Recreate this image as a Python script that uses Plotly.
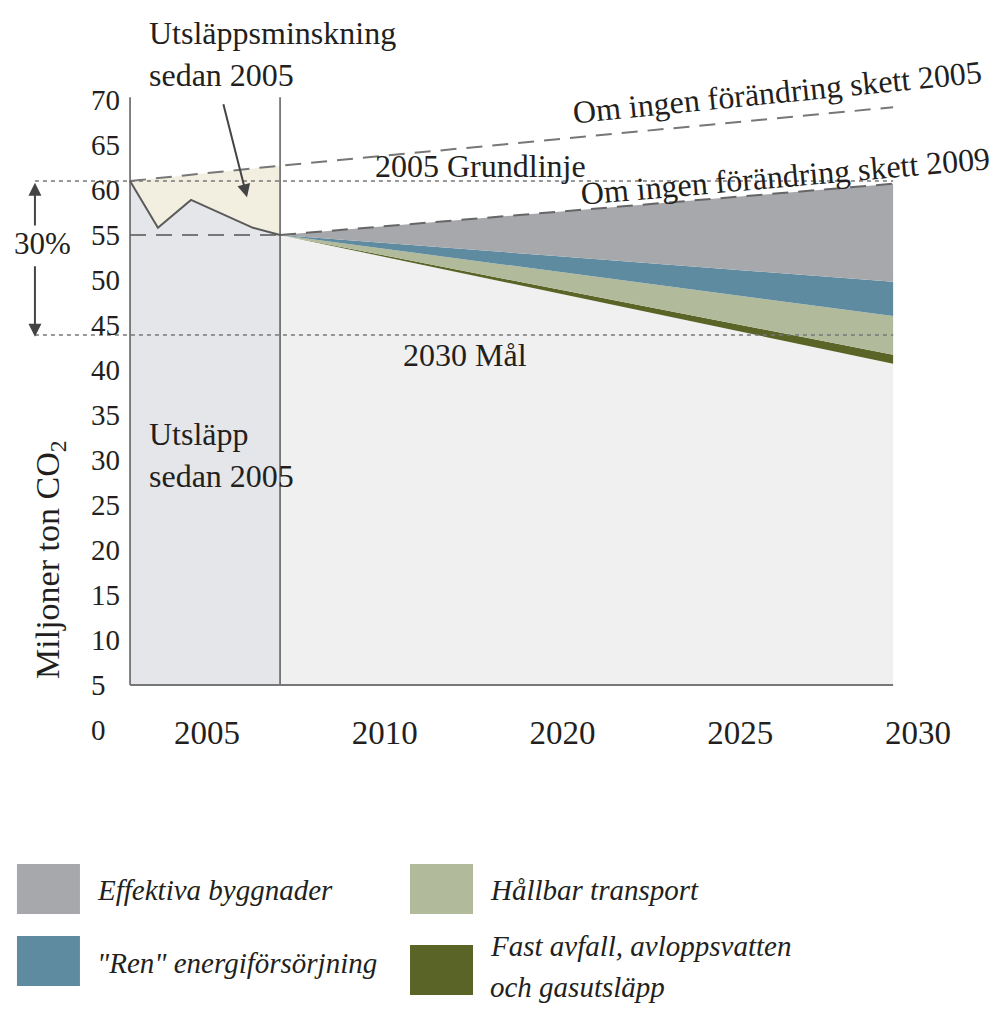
import plotly.graph_objects as go

# ---- data (x in "tick slot" units: 0=2005, 1=2010, 2=2020, 3=2025, 4=2030) ----
tick_pos = [0, 1, 2, 3, 4]
tick_text = ["2005", "2010", "2020", "2025", "2030"]
y_ticks = list(range(0, 71, 5))

x_start = -0.433      # first historic year
x_now = 0.411         # end of history
x_end = 3.86          # end of projection (2030)
x_note = -0.968       # left end of reference lines

hist_x = [-0.433, -0.276, -0.09, 0.259, 0.411]
hist_y = [61.0, 55.8, 58.9, 55.8, 55.0]

trend05_x = [-0.433, 0.411, 3.86]
trend05_y = [61.0, 62.7, 69.2]

proj_x = [0.411, 3.86]
trend09 = [55.0, 60.7]
after_buildings = [55.0, 49.8]
after_energy = [55.0, 46.0]
after_transport = [55.0, 41.7]
after_waste = [55.0, 40.7]

baseline_2005 = 61.0
target_2030 = 43.9
floor_val = 5
top_val = 70.3

legend_labels = ["Effektiva byggnader", "Hållbar transport",
                 "\"Ren\" energiförsörjning", "Fast avfall, avloppsvatten",
                 "och gasutsläpp"]

# ---- styles ----
FONT = "'Liberation Serif', 'DejaVu Serif', serif"
TXT = "#231f20"
C_HIST = "#e5e6e9"
C_PROJ = "#f0f0f0"
C_BEIGE = "#f2efe1"
C_BUILD = "#a7a8ac"
C_ENERGY = "#5f8ba0"
C_TRANS = "#b1bb9c"
C_WASTE = "#5b6427"
C_LINE = "#5a5a5a"
C_DASH = "#777777"

fig = go.Figure()

def line(x, y, **kw):
    fig.add_trace(go.Scatter(x=x, y=y, mode="lines", showlegend=False,
                             hoverinfo="skip", **kw))

# historic region
line([x_start, x_now], [floor_val, floor_val], line=dict(width=0))
line(hist_x, hist_y, fill="tonexty", fillcolor=C_HIST, line=dict(width=0))
line(trend05_x[:2], trend05_y[:2], fill="tonexty", fillcolor=C_BEIGE, line=dict(width=0))

# projection region
line(proj_x, [floor_val, floor_val], line=dict(width=0))
line(proj_x, after_waste, fill="tonexty", fillcolor=C_PROJ, line=dict(width=0))
line(proj_x, after_transport, fill="tonexty", fillcolor=C_WASTE, line=dict(width=0))
line(proj_x, after_energy, fill="tonexty", fillcolor=C_TRANS, line=dict(width=0))
line(proj_x, after_buildings, fill="tonexty", fillcolor=C_ENERGY, line=dict(width=0))
line(proj_x, trend09, fill="tonexty", fillcolor=C_BUILD, line=dict(width=0))

# lines
line(trend05_x, trend05_y, line=dict(color=C_DASH, width=2, dash="16px,10px"))
line(proj_x, trend09, line=dict(color="#666666", width=2, dash="16px,10px"))
line([x_start, x_now], [55, 55], line=dict(color=C_DASH, width=2, dash="16px,10px"))
line([x_note, x_end], [baseline_2005, baseline_2005], line=dict(color=C_DASH, width=1.5, dash="4px,4px"))
line([x_note, x_end], [target_2030, target_2030], line=dict(color=C_DASH, width=1.5, dash="4px,4px"))
line(hist_x, hist_y, line=dict(color=C_LINE, width=2))
line([x_start, x_start], [floor_val, top_val], line=dict(color=C_LINE, width=1.5))
line([x_now, x_now], [floor_val, top_val], line=dict(color=C_LINE, width=1.5))
line([x_start, x_end], [floor_val, floor_val], line=dict(color="#777777", width=2))

ann = []
def text(x, y, t, size=32, ref="x", yref="y", **kw):
    d = dict(x=x, y=y, xref=ref, yref=yref, text=t, showarrow=False,
             xanchor="center", yanchor="middle",
             font=dict(family=FONT, size=size, color=TXT))
    d.update(kw)
    ann.append(d)

text(0.1293, 1.0432, "Utsläppsminskning<br>sedan 2005", ref="paper", yref="paper",
     xanchor="left", align="left")
text(1.536, 62.7, "2005 Grundlinje")
text(1.451, 41.7, "2030 Mål")
text(3.212, 70.9, "Om ingen förändring skett 2005", textangle=-5.7)
text(3.252, 61.6, "Om ingen förändring skett 2009", textangle=-5.0)
text(-0.928, 54.1, "30%", size=31)
text(-0.338, 30.6, "Utsläpp<br>sedan 2005", xanchor="left", align="left")
text(-0.883, 18.9, "Miljoner ton CO<sub>2</sub>", size=34, textangle=-90)

def arrow(x, y, ax, ay):
    ann.append(dict(x=x, y=y, ax=ax, ay=ay, xref="x", yref="y", axref="x", ayref="y",
                    text="", showarrow=True, arrowhead=2, arrowsize=1.3,
                    arrowwidth=2, arrowcolor="#444444"))

arrow(0.225, 59.2, 0.09, 69.7)
arrow(-0.968, 60.8, -0.968, 55.9)
arrow(-0.968, 43.7, -0.968, 51.7)

# legend (custom, large swatches)
swatches = [
    (C_BUILD, -0.0144, 0.0552, -0.2068, -0.2840),
    (C_TRANS, 0.4199, 0.4895, -0.2068, -0.2840),
    (C_ENERGY, -0.0144, 0.0552, -0.3179, -0.3950),
    (C_WASTE, 0.4199, 0.4895, -0.3318, -0.4090),
]
label_pos = [(0.0718, -0.2470), (0.5061, -0.2470), (0.0718, -0.3590),
             (0.5061, -0.3330), (0.5061, -0.3970)]
shapes = []
for col, x0, x1, y0, y1 in swatches:
    shapes.append(dict(type="rect", xref="paper", yref="paper", x0=x0, x1=x1,
                       y0=y1, y1=y0, fillcolor=col, line=dict(width=0)))
for lab, (tx, ty) in zip(legend_labels, label_pos):
    ann.append(dict(x=tx, y=ty, xref="paper", yref="paper", text=lab, showarrow=False,
                    xanchor="left", yanchor="middle", align="left",
                    font=dict(family=FONT, size=29, color=TXT, style="italic")))

# page body has an 8px margin: shift the figure up/left to compensate
fig.update_layout(
    width=997, height=1002,
    margin=dict(l=22, r=70, t=74, b=280),
    paper_bgcolor="white", plot_bgcolor="white",
    showlegend=False,
    annotations=ann, shapes=shapes,
    xaxis=dict(range=[-0.9958, 4.0956], tickvals=tick_pos, ticktext=tick_text,
               showgrid=False, zeroline=False, showline=False, ticks="",
               tickfont=dict(family=FONT, size=33, color=TXT),
               anchor="free", position=0.031, fixedrange=True),
    yaxis=dict(range=[0, 72], tickvals=y_ticks, side="right", anchor="free",
               position=0.0663, showgrid=False, zeroline=False, showline=False,
               ticks="", tickfont=dict(family=FONT, size=29, color=TXT),
               fixedrange=True),
)

fig.write_html("out.html")
